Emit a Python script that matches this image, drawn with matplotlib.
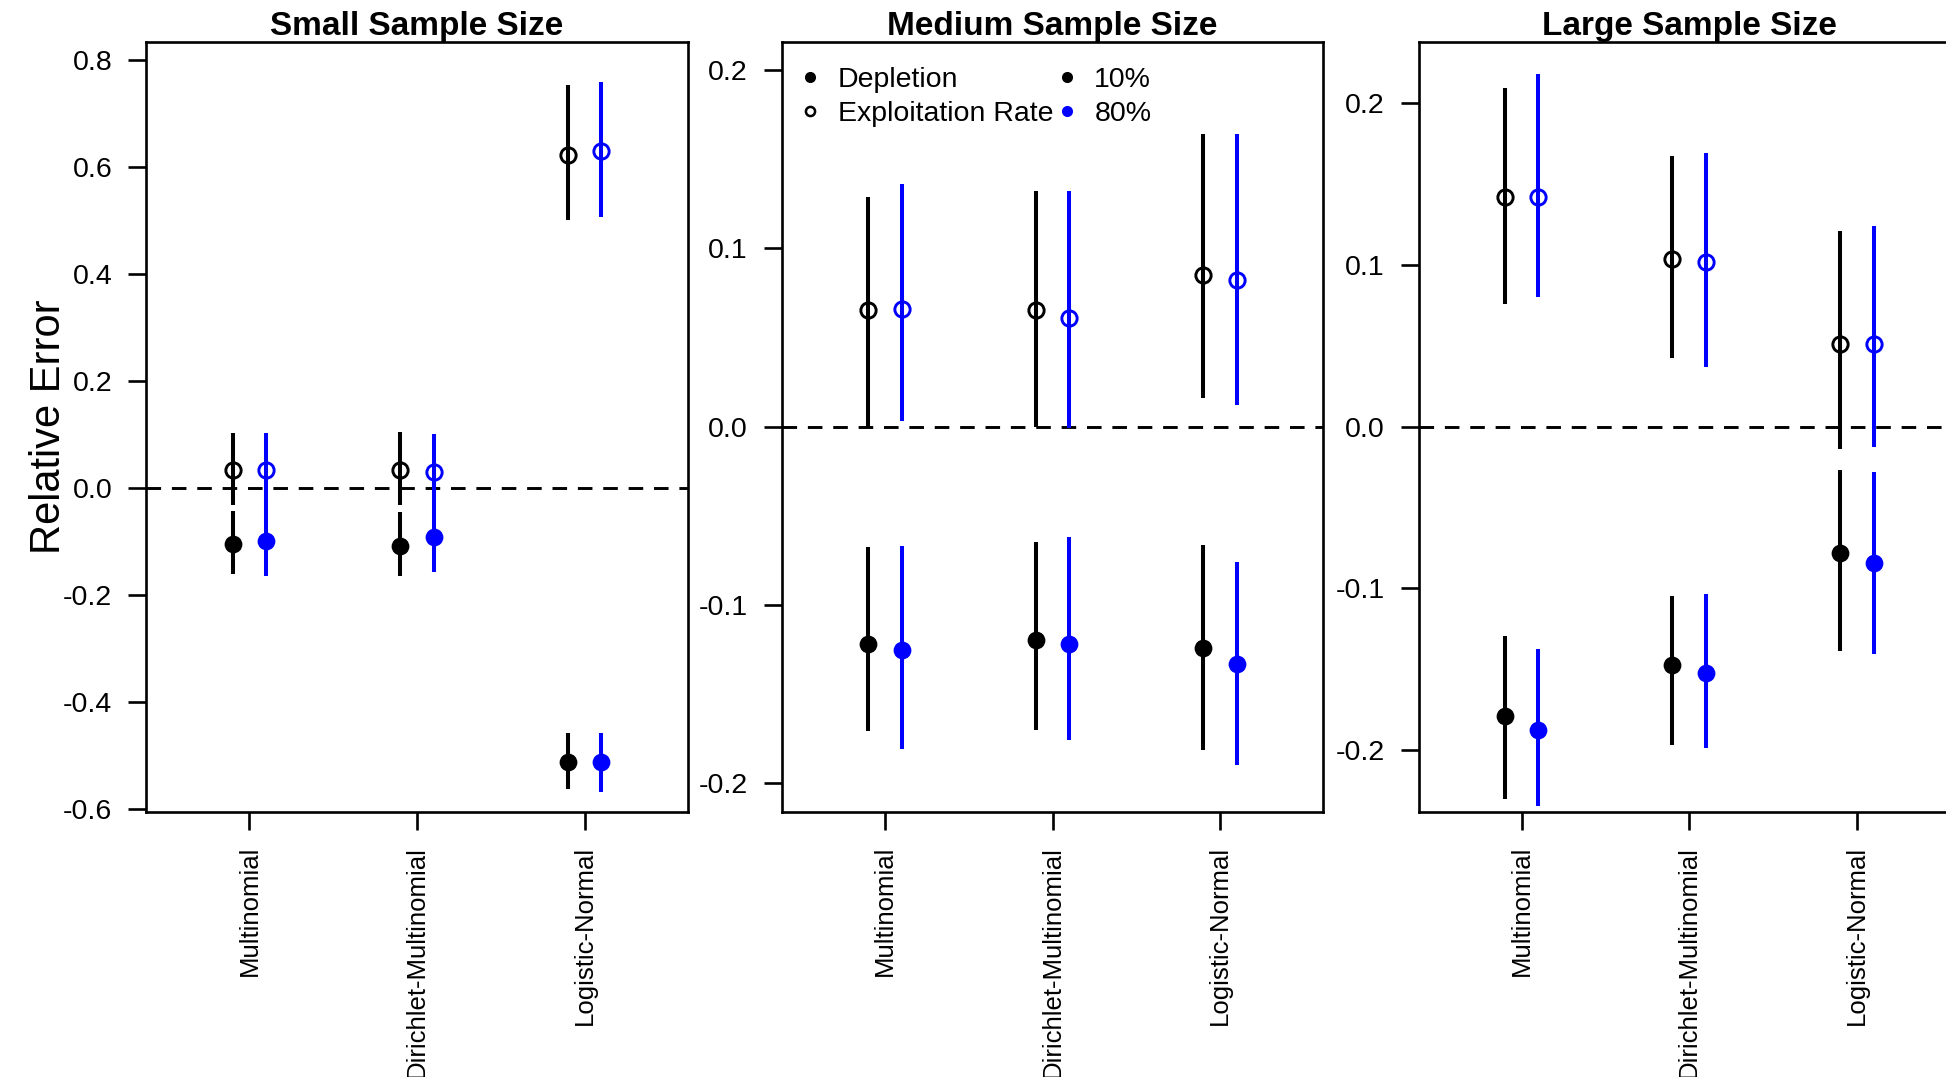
import matplotlib
matplotlib.use("Agg")
import matplotlib.pyplot as plt
from matplotlib.lines import Line2D
import numpy as np

plt.rcParams['font.family'] = ['Liberation Sans', 'DejaVu Sans']
plt.rcParams['axes.unicode_minus'] = False

# ---------------- data ----------------
categories = ["Multinomial", "Dirichlet-Multinomial", "Logistic-Normal"]
panel_titles = ["Small Sample Size", "Medium Sample Size", "Large Sample Size"]

# Small sample size
small_er10_mid = [0.033, 0.033, 0.623]
small_er10_lo = [-0.032, -0.032, 0.501]
small_er10_hi = [0.103, 0.104, 0.753]
small_er80_mid = [0.034, 0.030, 0.629]
small_er80_lo = [-0.030, -0.028, 0.506]
small_er80_hi = [0.103, 0.101, 0.758]
small_dep10_mid = [-0.105, -0.108, -0.512]
small_dep10_lo = [-0.160, -0.165, -0.562]
small_dep10_hi = [-0.042, -0.044, -0.458]
small_dep80_mid = [-0.098, -0.091, -0.512]
small_dep80_lo = [-0.164, -0.156, -0.568]
small_dep80_hi = [-0.028, -0.026, -0.458]

# Medium sample size
med_er10_mid = [0.0652, 0.0656, 0.085]
med_er10_lo = [-0.001, 0.000, 0.016]
med_er10_hi = [0.129, 0.132, 0.164]
med_er80_mid = [0.066, 0.061, 0.082]
med_er80_lo = [0.003, -0.001, 0.012]
med_er80_hi = [0.136, 0.132, 0.164]
med_dep10_mid = [-0.1217, -0.1198, -0.124]
med_dep10_lo = [-0.171, -0.170, -0.1816]
med_dep10_hi = [-0.0674, -0.065, -0.0665]
med_dep80_mid = [-0.1255, -0.1217, -0.1333]
med_dep80_lo = [-0.181, -0.1756, -0.190]
med_dep80_hi = [-0.0668, -0.0618, -0.0758]

# Large sample size
large_er10_mid = [0.1416, 0.1035, 0.0509]
large_er10_lo = [0.0754, 0.0424, -0.0136]
large_er10_hi = [0.209, 0.167, 0.121]
large_er80_mid = [0.1416, 0.1018, 0.0509]
large_er80_lo = [0.0798, 0.0365, -0.0126]
large_er80_hi = [0.218, 0.169, 0.124]
large_dep10_mid = [-0.1788, -0.1475, -0.0784]
large_dep10_lo = [-0.230, -0.197, -0.1387]
large_dep10_hi = [-0.1296, -0.1046, -0.0269]
large_dep80_mid = [-0.1877, -0.152, -0.0842]
large_dep80_lo = [-0.2347, -0.1984, -0.1407]
large_dep80_hi = [-0.1376, -0.1032, -0.028]

small_yticks = [-0.6, -0.4, -0.2, 0.0, 0.2, 0.4, 0.6, 0.8]
medium_yticks = [-0.2, -0.1, 0.0, 0.1, 0.2]
large_yticks = [-0.2, -0.1, 0.0, 0.1, 0.2]

legend_labels_type = ["Depletion", "Exploitation Rate"]
legend_labels_rate = ["10%", "80%"]

# ---------------- layout ----------------
W, H = 1946, 1077
fig = plt.figure(figsize=(W / 100, H / 100), dpi=100)

ax_left_px = [146.4, 781.9, 1418.6]
ax_w_px = 541.2
ax_top_px, ax_bot_px = 42.3, 811.7
ylims = [(-0.6045, 0.833), (-0.216, 0.2155), (-0.238, 0.2374)]

panels = [
    dict(er10=(small_er10_mid, small_er10_lo, small_er10_hi),
         er80=(small_er80_mid, small_er80_lo, small_er80_hi),
         dep10=(small_dep10_mid, small_dep10_lo, small_dep10_hi),
         dep80=(small_dep80_mid, small_dep80_lo, small_dep80_hi),
         yticks=small_yticks),
    dict(er10=(med_er10_mid, med_er10_lo, med_er10_hi),
         er80=(med_er80_mid, med_er80_lo, med_er80_hi),
         dep10=(med_dep10_mid, med_dep10_lo, med_dep10_hi),
         dep80=(med_dep80_mid, med_dep80_lo, med_dep80_hi),
         yticks=medium_yticks),
    dict(er10=(large_er10_mid, large_er10_lo, large_er10_hi),
         er80=(large_er80_mid, large_er80_lo, large_er80_hi),
         dep10=(large_dep10_mid, large_dep10_lo, large_dep10_hi),
         dep80=(large_dep80_mid, large_dep80_lo, large_dep80_hi),
         yticks=large_yticks),
]

BLUE = "#0000FF"
x = np.arange(1, len(categories) + 1)
off = 0.1
bar_lw = 2.9
ms_open, mew_open = 11.0, 2.1
ms_fill = 12.8

axes = []
for i, p in enumerate(panels):
    ax = fig.add_axes([ax_left_px[i] / W, 1 - ax_bot_px / H,
                       ax_w_px / W, (ax_bot_px - ax_top_px) / H])
    axes.append(ax)
    ax.axhline(0, color="black", lw=2.1, dashes=(5.0, 3.7), zorder=1)

    for key, dx, col, filled in [("er10", -off, "black", False),
                                 ("er80", off, BLUE, False),
                                 ("dep10", -off, "black", True),
                                 ("dep80", off, BLUE, True)]:
        mid, lo, hi = p[key]
        ax.vlines(x + dx, lo, hi, color=col, lw=bar_lw, zorder=2)
        if filled:
            ax.plot(x + dx, mid, "o", color=col, ms=ms_fill, mew=0, zorder=3)
        else:
            ax.plot(x + dx, mid, "o", mfc="none", mec=col, ms=ms_open,
                    mew=mew_open, zorder=3)

    ax.set_xlim(0.385, 3.615)
    ax.set_ylim(*ylims[i])
    ax.set_xticks(x)
    ax.set_xticklabels(categories, rotation=90, fontsize=18.5)
    ax.set_yticks(p["yticks"])
    ax.set_yticklabels([f"{v:.1f}" for v in p["yticks"]], fontsize=20.5)
    ax.tick_params(axis="both", direction="out", length=12.7, width=1.9)
    ax.tick_params(axis="x", pad=12)
    ax.tick_params(axis="y", pad=11.8)
    for s in ax.spines.values():
        s.set_linewidth(1.9)
    ax.set_title(panel_titles[i], fontsize=24, fontweight="bold", pad=4)

# legend in the medium panel
h_dep = Line2D([], [], ls="none", marker="o", color="black", ms=8.0, mew=0)
h_er = Line2D([], [], ls="none", marker="o", mfc="none", mec="black", ms=6.6, mew=1.8)
h_10 = Line2D([], [], ls="none", marker="o", color="black", ms=8.0, mew=0)
h_80 = Line2D([], [], ls="none", marker="o", color=BLUE, ms=8.0, mew=0)
axes[1].legend([h_dep, h_er, h_10, h_80],
               legend_labels_type + legend_labels_rate,
               ncol=2, loc="upper left", bbox_to_anchor=(0.0318, 0.968),
               frameon=False, fontsize=20.5, handlelength=0.8,
               handletextpad=0.55, columnspacing=0.1, borderpad=0,
               borderaxespad=0, labelspacing=0.3)

fig.text(29 / W, 1 - 427 / H, "Relative Error", rotation=90, fontsize=30,
         ha="left", va="center")

fig.savefig("out.png", dpi=100)
